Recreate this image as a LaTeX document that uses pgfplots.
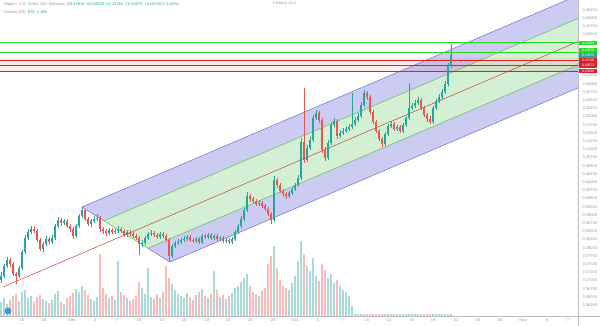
\documentclass[border=0pt]{standalone}
\usepackage{fontspec}
\setmainfont{Liberation Sans}
\usepackage{pgfplots}
\pgfplotsset{compat=1.18}
\usepackage{pgfplotstable}
\definecolor{upc}{RGB}{38,166,154}
\definecolor{dnc}{RGB}{239,83,80}
\definecolor{pfblue}{RGB}{204,204,242}
\definecolor{pfgreen}{RGB}{212,240,212}
\definecolor{pfbline}{RGB}{125,125,205}
\definecolor{pfgline}{RGB}{110,190,110}
\definecolor{medline}{RGB}{190,70,60}
\definecolor{hgreen}{RGB}{40,215,40}
\definecolor{hred}{RGB}{215,35,45}
\definecolor{txtgray}{RGB}{150,150,150}
\definecolor{axgray}{RGB}{190,190,190}
\definecolor{logoblue}{RGB}{70,150,220}

% x: bar position; o,c: open/close; t,b: high/low (all in chart pixels from the top); v: volume
\pgfplotstableread{
x o c t b v
1 280 276 272 283 14
4 276 266 264 278 18
7 266 260 257 268 12
10 260 264 258 267 16
13 264 274 262 276 20
16 274 276 272 284 22
19 276 268 266 278 15
22 268 252 250 270 24
25 252 238 235 254 26
28 238 232 229 240 18
31 232 229 226 234 20
34 229 231 226 233 14
37 231 240 229 242 19
40 240 249 238 251 21
43 249 244 242 252 17
46 244 239 236 246 15
49 239 242 237 245 13
52 242 238 235 244 16
55 238 226 224 240 22
58 226 220 217 228 25
61 220 223 218 226 14
64 223 221 219 225 12
67 221 226 219 228 18
70 226 229 224 232 20
73 229 236 227 239 23
76 236 226 224 238 27
79 226 216 214 228 24
82 216 210 207 218 30
85 210 219 209 221 26
88 219 224 217 226 21
91 224 221 219 227 17
94 221 219 216 223 15
97 219 218 214 221 19
100 218 229 216 232 62
103 229 231 227 234 28
106 231 233 229 236 22
109 233 230 228 235 18
112 230 232 228 234 20
115 232 231 229 234 16
118 231 229 226 233 55
121 229 231 227 233 24
124 231 235 229 237 21
127 235 232 230 237 18
130 232 234 230 236 15
133 234 236 232 238 17
136 236 238 234 240 20
139 238 244 236 255 34
142 244 243 240 247 28
145 243 238 236 245 22
148 238 234 232 240 48
151 234 233 230 236 19
154 233 235 231 237 17
157 235 237 233 239 21
160 237 234 232 239 18
163 234 236 232 238 24
166 236 240 234 242 50
169 240 256 238 262 38
172 256 246 244 258 32
175 246 243 241 248 26
178 243 242 239 245 22
181 242 240 238 244 20
184 240 239 236 242 18
187 239 237 235 241 23
190 237 240 235 242 19
193 240 241 238 243 16
196 241 239 237 243 21
199 239 242 237 244 24
202 242 236 234 244 27
205 236 237 234 239 20
208 237 235 233 239 18
211 235 238 233 240 22
214 238 236 234 240 45
217 236 239 234 241 26
220 239 238 236 241 19
223 238 241 236 243 21
226 241 240 238 243 17
229 240 242 238 244 20
232 242 239 237 244 23
235 239 232 230 241 28
238 232 226 224 234 30
241 226 219 216 228 34
244 219 210 208 221 38
247 210 196 192 212 42
250 196 199 194 202 30
253 199 201 197 203 24
256 201 204 199 206 22
259 204 203 200 206 20
262 203 206 201 208 25
265 206 209 204 211 28
268 209 214 207 216 52
271 214 220 212 224 60
274 220 180 176 222 70
277 180 185 178 188 48
280 185 191 183 193 36
283 191 194 189 197 30
286 194 196 192 199 28
289 196 193 191 198 26
292 193 189 187 195 33
295 189 185 183 191 40
298 185 178 175 187 55
301 178 142 138 180 75
304 142 160 88 163 62
307 160 148 145 162 50
310 148 140 137 150 45
313 140 118 115 142 58
316 118 113 110 120 40
319 113 120 111 123 35
322 120 150 118 153 52
325 150 158 147 161 46
328 158 143 140 160 38
331 143 125 122 145 42
334 125 121 118 127 33
337 121 136 119 139 36
340 136 133 130 138 30
343 133 131 128 135 26
346 131 129 126 133 24
349 129 127 124 131 20
352 127 124 93 129 10
355 124 120 117 126 2
358 120 116 113 122 1.5
361 116 105 102 118 1.5
364 105 93 90 107 1.5
367 93 97 91 100 1.5
370 97 112 95 114 1.5
373 112 122 110 124 1.5
376 122 131 120 133 1.5
379 131 139 129 141 1.5
382 139 144 137 147 1.5
385 144 134 132 146 1.5
388 134 126 124 136 1.5
391 126 124 121 128 1.5
394 124 129 122 131 1.5
397 129 127 125 131 1.5
400 127 131 125 133 1.5
403 131 125 123 133 1.5
406 125 118 116 127 1.5
409 118 108 83 120 1.5
412 108 106 103 110 1.5
415 106 103 100 108 1.5
418 103 100 97 105 1.5
421 100 108 98 110 1.5
424 108 115 106 117 1.5
427 115 119 113 122 1.5
430 119 122 116 124 1.5
433 122 108 106 124 1.5
436 108 101 99 110 1.5
439 101 97 94 103 1.5
442 97 92 89 99 1.5
445 92 84 81 94 1.5
448 84 66 63 86 1.5
451 66 55 44 68 1.5
}\candles

\begin{document}
\begin{tikzpicture}
\useasboundingbox (0,0) rectangle (600pt,326pt);
% ---------- volume ----------
\begin{axis}[at={(0pt,10pt)}, anchor=south west, scale only axis,
  width=578pt, height=316pt, xmin=0, xmax=578, ymin=0, ymax=316,
  axis lines=none]
\addplot[ycomb, mark=none, line width=2pt, draw=upc, draw opacity=0.4,
  restrict expr to domain={\thisrow{o}-\thisrow{c}}{0:1000}]
  table[x=x, y=v] {\candles};
\addplot[ycomb, mark=none, line width=2pt, draw=dnc, draw opacity=0.4,
  restrict expr to domain={\thisrow{o}-\thisrow{c}}{-1000:-0.001}]
  table[x=x, y=v] {\candles};
\end{axis}
% ---------- price ----------
\begin{axis}[at={(0pt,10pt)}, anchor=south west, scale only axis,
  width=578pt, height=316pt, xmin=0, xmax=578, ymin=-316, ymax=0,
  axis line style={draw=none}, major tick length=0pt,
  yticklabel pos=right,
  ytick={-10,-18.2,...,-305.3},
  yticklabels={0.45250,0.45000,0.44750,0.44500,,,,,0.43250,0.43000,0.42750,0.42500,0.42250,0.42000,0.41750,0.41500,0.41250,0.41000,0.40750,0.40500,0.40250,0.40000,0.39750,0.39500,0.39250,0.39000,0.38750,0.38500,0.38250,0.38000,0.37750,0.37500,0.37250,0.37000,0.36750,0.36500,0.36250},
  yticklabel style={font=\fontsize{4}{4}\selectfont, text=txtgray, xshift=1pt},
  xtick={22,44,72,95,117,139,162,184,207,228,250,273,295,318,343,367,389,412,433,456,478,500,523,547,568},
  xticklabels={25,28,Sep,4,7,10,13,16,19,22,25,28,Oct,4,7,10,13,16,19,22,25,28,Nov,4,7},
  xticklabel style={font=\fontsize{4}{4}\selectfont, text=txtgray, yshift=1pt},
  candle/.style={only marks, mark=text, text mark={}, error bars/y dir=both, error bars/y explicit, error bars/error mark=none}]
% pitchfork fills
\addplot[fill=pfblue, draw=none] coordinates {(82,-207) (104,-220.75) (578,-18.45) (578,0) (567,0) (82,-207)};
\addplot[fill=pfgreen, draw=none] coordinates {(104,-220.75) (148,-248.25) (578,-64.75) (578,-18.45) (104,-220.75)};
\addplot[fill=pfblue, draw=none] coordinates {(148,-248.25) (170,-262) (578,-87.9) (578,-64.75) (148,-248.25)};
% pitchfork lines
\addplot[pfbline, line width=0.6pt] coordinates {(82,-207) (567,0)};
\addplot[pfbline, line width=0.6pt] coordinates {(170,-262) (578,-87.9)};
\addplot[pfgline, line width=0.6pt] coordinates {(104,-220.75) (578,-18.45)};
\addplot[pfgline, line width=0.6pt] coordinates {(148,-248.25) (578,-64.75)};
\addplot[pfbline, line width=0.6pt] coordinates {(82,-207) (104,-220.75)};
\addplot[pfgline, line width=0.6pt] coordinates {(104,-220.75) (148,-248.25)};
\addplot[pfbline, line width=0.6pt] coordinates {(148,-248.25) (170,-262)};
\addplot[medline, line width=0.5pt] coordinates {(3,-287) (578,-41.6)};
% horizontal levels
\addplot[fill=red, fill opacity=0.07, draw=none] coordinates {(0,-58) (578,-58) (578,-72) (0,-72) (0,-58)};
\addplot[hgreen, line width=1pt] coordinates {(0,-43) (578,-43)};
\addplot[hgreen, line width=0.9pt] coordinates {(0,-52) (578,-52)};
\addplot[hred, line width=0.9pt] coordinates {(0,-60) (578,-60)};
\addplot[hred, line width=0.9pt] coordinates {(0,-65) (578,-65)};
\addplot[hred, line width=0.9pt] coordinates {(0,-71) (578,-71)};
% candles: wicks
\addplot[upc, candle, restrict expr to domain={\thisrow{o}-\thisrow{c}}{0:1000},
  error bars/error bar style={draw=upc, color=upc, line width=0.7pt}]
  table[x=x, y expr={-(\thisrow{t}+\thisrow{b})/2}, y error expr={(\thisrow{b}-\thisrow{t})/2}] {\candles};
\addplot[dnc, candle, restrict expr to domain={\thisrow{o}-\thisrow{c}}{-1000:-0.001},
  error bars/error bar style={draw=dnc, color=dnc, line width=0.7pt}]
  table[x=x, y expr={-(\thisrow{t}+\thisrow{b})/2}, y error expr={(\thisrow{b}-\thisrow{t})/2}] {\candles};
% candles: bodies
\addplot[upc, candle, restrict expr to domain={\thisrow{o}-\thisrow{c}}{0:1000},
  error bars/error bar style={color=upc, line width=1.8pt}]
  table[x=x, y expr={-(\thisrow{o}+\thisrow{c})/2}, y error expr={max(abs(\thisrow{o}-\thisrow{c})/2,0.4)}] {\candles};
\addplot[dnc, candle, restrict expr to domain={\thisrow{o}-\thisrow{c}}{-1000:-0.001},
  error bars/error bar style={color=dnc, line width=1.8pt}]
  table[x=x, y expr={-(\thisrow{o}+\thisrow{c})/2}, y error expr={max(abs(\thisrow{o}-\thisrow{c})/2,0.4)}] {\candles};
% header
\node[anchor=north west, inner sep=0pt, font=\fontsize{4}{4}\selectfont, text=txtgray] at (axis cs:4,-2.5)
  {Ripple / U.S. Dollar, 240, Bitstamp \;\textcolor{upc}{O0.43814\; H0.43930\; L0.43786\; C0.43878\; +0.00700 (+1.60\%)}};
\node[anchor=north west, inner sep=0pt, font=\fontsize{4}{4}\selectfont, text=txtgray] at (axis cs:4,-10)
  {Volume (20)\; \textcolor{upc}{879\; 2.18K}};
\node[anchor=north, inner sep=0pt, font=\fontsize{3.6}{4}\selectfont, text=txtgray] at (axis cs:285,-2)
  {Pitchfork 2021};
\coordinate (L1) at (axis cs:578,-43);
\coordinate (L2) at (axis cs:578,-50.5);
\coordinate (L3) at (axis cs:578,-55.5);
\coordinate (L4) at (axis cs:578,-60.5);
\coordinate (L5) at (axis cs:578,-65.7);
\coordinate (L6) at (axis cs:578,-71);
\coordinate (BL) at (axis cs:0,-316);
\coordinate (TR) at (axis cs:578,0);
\end{axis}
\draw[axgray, line width=0.5pt] (BL) -- ++(600pt,0);
\draw[axgray, line width=0.5pt] (TR) -- ++(0,-326pt);
\foreach \p/\c/\v in {L1/hgreen/0.44244, L2/hgreen/0.43970, L3/upc/0.43878, L4/hred/0.43726, L5/hred/0.43573, L6/hred/0.43390}{
  \node[anchor=west, fill=\c, text=white, inner sep=0.4pt, minimum width=18pt, minimum height=4.4pt, font=\fontsize{3.4}{3.4}\selectfont] at ([xshift=1pt]\p) {\v};
}
\node[circle, fill=logoblue, inner sep=0pt, minimum size=7pt] at (8pt,15pt) {};
\end{tikzpicture}
\end{document}
